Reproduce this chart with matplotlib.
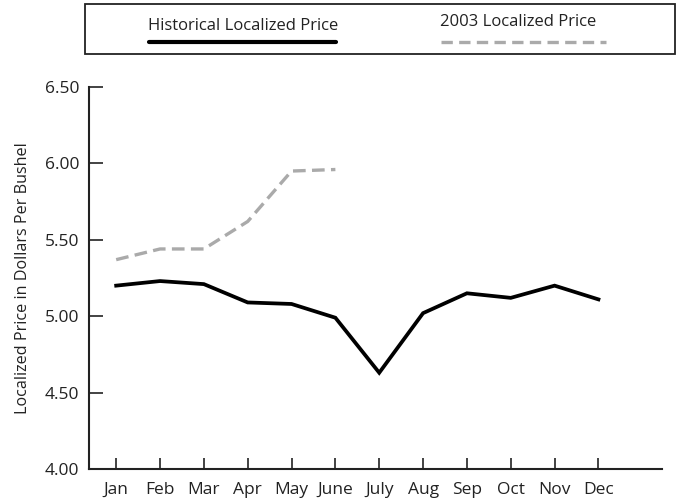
import matplotlib
matplotlib.use("Agg")
import matplotlib.pyplot as plt
from matplotlib.lines import Line2D
from matplotlib.patches import Rectangle

plt.rcParams['font.family'] = ['Open Sans', 'DejaVu Sans']

months = ['Jan', 'Feb', 'Mar', 'Apr', 'May', 'June', 'July', 'Aug', 'Sep', 'Oct', 'Nov', 'Dec']
historical = [5.20, 5.23, 5.21, 5.09, 5.08, 4.99, 4.63, 5.02, 5.15, 5.12, 5.20, 5.11]
price_2003 = [5.37, 5.44, 5.44, 5.62, 5.95, 5.96]
yticks = [4.00, 4.50, 5.00, 5.50, 6.00, 6.50]

W, H = 678, 503
fig = plt.figure(figsize=(W / 100, H / 100), dpi=100)

# main axes, placed in pixel terms
ax = fig.add_axes([89 / W, 1 - 469 / H, (662 - 89) / W, (469 - 87) / H])
x = list(range(len(months)))
ax.plot(x, historical, color='black', lw=2.7, solid_joinstyle='miter')
ax.plot(x[:len(price_2003)], price_2003, color='#aaaaaa', lw=2.4,
        dashes=(3.8, 1.9))

ax.set_xlim(-0.62, 12.45)
ax.set_ylim(4.0, 6.5)
ax.set_xticks(x)
ax.set_xticklabels(months)
ax.set_yticks(yticks)
ax.set_yticklabels([f'{v:.2f}' for v in yticks])
ax.tick_params(axis='x', direction='in', length=8, width=1.2, pad=9,
               labelsize=12.5, colors='#222222')
ax.tick_params(axis='y', direction='in', length=10, width=1.2, pad=7,
               labelsize=12.5, colors='#222222')
for s in ['top', 'right']:
    ax.spines[s].set_visible(False)
for s in ['left', 'bottom']:
    ax.spines[s].set_linewidth(1.5)
    ax.spines[s].set_color('#222222')
ax.set_ylabel('Localized Price in Dollars Per Bushel', fontsize=11.6,
              labelpad=10, color='#222222')

# legend box at the top
lg = fig.add_axes([85 / W, 1 - 54 / H, (675 - 85) / W, (54 - 4) / H])
lg.set_xlim(0, 1)
lg.set_ylim(0, 1)
lg.axis('off')
lg.add_patch(Rectangle((0, 0), 1, 1, fill=False, lw=1.3, ec='#222222',
                       transform=lg.transAxes, clip_on=False))
def px(v):
    return (v - 85) / (675 - 85)
lg.text(px(243), 0.56, 'Historical Localized Price', ha='center', va='center',
        fontsize=12, color='#222222')
lg.add_line(Line2D([px(149), px(336)], [0.24, 0.24], color='black', lw=3,
                   solid_capstyle='round'))
lg.text(px(518), 0.64, '2003 Localized Price', ha='center', va='center',
        fontsize=12, color='#222222')
lg.add_line(Line2D([px(441), px(606)], [0.24, 0.24], color='#aaaaaa', lw=2.4,
                   dashes=(3.4, 1.9)))

fig.savefig('out.png', dpi=100)
